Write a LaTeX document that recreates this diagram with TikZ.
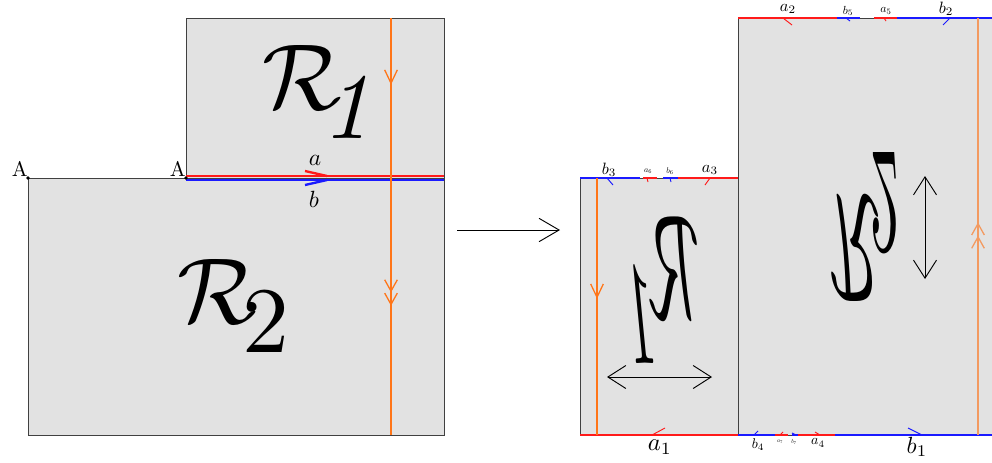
\documentclass[tikz,border=0pt]{standalone}
\usetikzlibrary{arrows.meta, decorations.markings, positioning}
\definecolor{regfill}{HTML}{E2E2E2}
\definecolor{regdraw}{HTML}{404040}
\definecolor{seamor}{HTML}{FF7518}
\definecolor{seamlt}{HTML}{F39A60}
\definecolor{edgered}{HTML}{FF1A1A}
\definecolor{edgeblue}{HTML}{1A1AFF}
\tikzset{
  % regione del piano
  region/.style={fill=regfill, draw=regdraw, line width=0.8pt},
  % lati da incollare
  sidea/.style={edgered, line width=1.7pt},
  sideb/.style={edgeblue, line width=1.7pt},
  % curva arancione che attraversa le regioni
  seam/.style={seamor, line width=1.1pt},
  tipone/.style={postaction={decorate, decoration={markings,
    mark=at position #1 with {\arrow{Straight Barb[length=4mm,width=3.8mm]}}}}},
  tiptwo/.style={postaction={decorate, decoration={markings,
    mark=at position #1 with {\arrow{Straight Barb[length=3.4mm,width=3.8mm] Straight Barb[length=3.4mm,width=3.8mm]}}}}},
  % mezza freccia sul bordo
  barb/.style={line width=0.8pt},
  % frecce nere
  bigarrow/.style={-{Straight Barb[length=6mm,width=7mm]}, line width=0.8pt},
  sizearrow/.style={{Straight Barb[length=5.4mm,width=6.9mm]}-{Straight Barb[length=5.4mm,width=6.9mm]}, line width=0.8pt},
  % etichette (corpo in pt)
  lbl/.style={inner sep=0pt, scale=#1/10},
  % nome della regione
  regname/.style={inner sep=0pt},
}
\newcommand{\regone}{$\mathcal{R}_{\kern-2pt\lower1.5pt\hbox{$\textstyle\mathit{1}$}}$}
\newcommand{\regtwo}{$\mathcal{R}_{\kern-1.5pt\lower1.5pt\hbox{$\textstyle 2$}}$}

\begin{document}
\begin{tikzpicture}[x=0.03cm, y=-0.03cm]
  \useasboundingbox (0,0) rectangle (992,462);
  % figura di partenza
  \filldraw[region] (28,178) rectangle (444,435);
  \filldraw[region] (186,18) rectangle (444,178);
  \coordinate (A2) at (28,178);
  \coordinate (A1) at (186,178);
  \draw[edgered, line width=2.4pt] (186,176) -- (444,176);
  \draw[edgeblue, line width=2.4pt] (186,180) -- (444,180);
  \draw[edgered, line width=2pt] (327,176) -- (305,171);
  \draw[edgeblue, line width=2pt] (327,180) -- (305,185);
  \fill (A2) circle (1.6pt);
  \fill (A1) circle (1.6pt);
  \node[lbl=18, above left=1pt and 0pt of A2] {A};
  \node[lbl=18, above left=1pt and 0pt of A1] {A};
  \node[lbl=20] (la) at (315,160) {$a$};
  \node[lbl=20] (lb) at (314,199) {$b$};
  \draw[seam, tipone=0.16, tiptwo=0.69] (391,18) -- (391,435);
  \node[regname, scale=8] (r1) at (325,92) {\regone};
  \node[regname, scale=8] (r2) at (236,306) {\regtwo};

  \coordinate (go) at (457,230);
  \coordinate (arrive) at (560,230);
  \draw[bigarrow] (go) -- (arrive);

  % figura di arrivo
  \fill[regfill] (580,178) rectangle (738,435);
  \fill[regfill] (738,18) rectangle (992,435);
  \draw[regdraw, line width=0.8pt] (580,178) rectangle (738,435);
  \draw[regdraw, line width=0.8pt] (738,435) -- (738,18) -- (992,18);
  \draw[regdraw, line width=0.8pt] (738,435) -- (992,435);
  % bordo superiore destro
  \draw[sidea] (738,18) -- (837,18);
  \draw[sideb] (837,18) -- (860,18);
  \draw[sidea] (874,18) -- (897,18);
  \draw[sideb] (897,18) -- (992,18);
  % bordo superiore sinistro
  \draw[sideb] (580,178) -- (640,178);
  \draw[sidea] (643,178) -- (657,178);
  \draw[sideb] (663,178) -- (678,178);
  \draw[sidea] (678,178) -- (738,178);
  % bordo inferiore
  \draw[sidea] (580,435) -- (738,435);
  \draw[sideb] (738,435) -- (775,435);
  \draw[sidea] (775,435) -- (788,435);
  \draw[sideb] (792,435) -- (798,435);
  \draw[sidea] (798,435) -- (835,435);
  \draw[sideb] (835,435) -- (992,435);
  % mezze frecce
  \draw[barb, edgered] (783,18) -- (792,25);
  \draw[barb, edgeblue] (846,18) -- (850,21);
  \draw[barb, edgered] (884,18) -- (886,21);
  \draw[barb, edgeblue] (943,25) -- (950,18);
  \draw[barb, edgeblue] (607,178) -- (613,185);
  \draw[barb, edgered] (647,178) -- (648,182);
  \draw[barb, edgeblue] (670,178) -- (671,182);
  \draw[barb, edgered] (705,185) -- (710,178);
  \draw[barb, edgered] (652,435) -- (665,428);
  \draw[barb, edgeblue] (754,435) -- (758,431);
  \draw[barb, edgered] (780,435) -- (783,432);
  \draw[barb, edgeblue] (792,433) -- (796,435);
  \draw[barb, edgered] (815,432) -- (820,435);
  \draw[barb, edgeblue] (908,428) -- (922,435);
  % etichette dei lati
  \node[lbl=14] (la2) at (788,9) {$a_2$};
  \node[lbl=10] (lb5) at (848,11) {$b_5$};
  \node[lbl=10] (la5) at (886,11) {$a_5$};
  \node[lbl=14] (lb2) at (946,9) {$b_2$};
  \node[lbl=14] (lb3) at (609,170) {$b_3$};
  \node[lbl=7] (la6) at (648,171) {$a_6$};
  \node[lbl=7] (lb6) at (670,171) {$b_6$};
  \node[lbl=14] (la3) at (710,170) {$a_3$};
  \node[lbl=21] (la1) at (660,447) {$a_1$};
  \node[lbl=12] (lb4) at (758,445) {$b_4$};
  \node[lbl=5] (la7) at (780,442) {$a_7$};
  \node[lbl=5] (lb7) at (794,442) {$b_7$};
  \node[lbl=12] (la4) at (818,443) {$a_4$};
  \node[lbl=20] (lb1) at (917,447) {$b_1$};
  % curve arancioni
  \draw[seam, tipone=0.47] (597,178) -- (597,435);
  \draw[seam, seamlt, tiptwo=0.51] (978,435) -- (978,18);
  % regioni deformate
  \node[regname, xscale=-4.96, yscale=12.7] (r1b) at (659,290) {\regone};
  \node[regname, xscale=4.9, yscale=-13] (r2b) at (866,227) {\regtwo};
  \coordinate (h1) at (607,377);
  \coordinate (h2) at (712,377);
  \draw[sizearrow] (h1) -- (h2);
  \coordinate (v1) at (925,176);
  \coordinate (v2) at (925,279);
  \draw[sizearrow] (v1) -- (v2);
\end{tikzpicture}
\end{document}
